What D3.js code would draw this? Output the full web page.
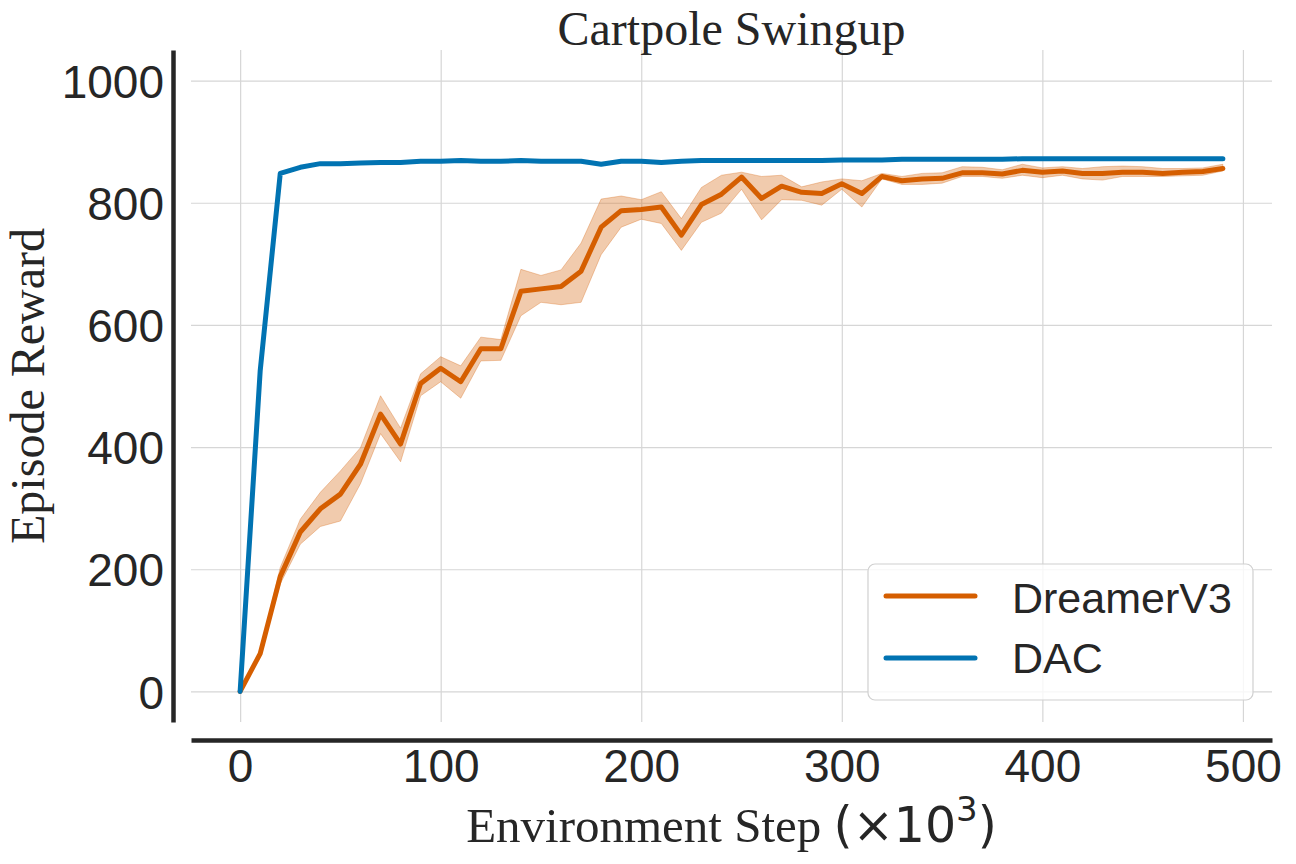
<!DOCTYPE html>
<html lang="en">
<head>
    <meta charset="UTF-8">
    <title>Cartpole Swingup</title>
    <script src="https://d3js.org/d3.v7.min.js"></script>
    <style>
        body { margin: 0; background: #fff; }
    </style>
</head>
<body>
    <script>
        // values
        var steps = [0, 10, 20, 30, 40, 50, 60, 70, 80, 90,
                     100, 110, 120, 130, 140, 150, 160, 170, 180, 190,
                     200, 210, 220, 230, 240, 250, 260, 270, 280, 290,
                     300, 310, 320, 330, 340, 350, 360, 370, 380, 390,
                     400, 410, 420, 430, 440, 450, 460, 470, 480, 490];

        var dacReward = [0, 525, 848, 858, 864, 864, 865, 866, 866, 868,
                         868, 869, 868, 868, 869, 868, 868, 868, 863, 868,
                         868, 866, 868, 869, 869, 869, 869, 869, 869, 869,
                         870, 870, 870, 871, 871, 871, 871, 871, 871, 872,
                         872, 872, 872, 872, 872, 872, 872, 872, 872, 872];

        var dreamerReward = [0, 62, 188, 261, 299, 323, 372, 454, 405, 504,
                             529, 507, 561, 561, 655, 659, 663, 688, 760, 787,
                             789, 793, 747, 797, 814, 842, 807, 827, 817, 815,
                             831, 815, 843, 836, 839, 840, 849, 849, 847, 853,
                             850, 852, 848, 848, 850, 850, 848, 850, 851, 856];

        var dreamerUpper = [0, 65, 203, 282, 326, 361, 399, 484, 431, 520,
                            548, 533, 580, 576, 691, 681, 690, 734, 806, 811,
                            805, 818, 774, 825, 845, 850, 843, 845, 826, 834,
                            839, 836, 848, 843, 848, 849, 859, 858, 854, 863,
                            857, 859, 856, 859, 860, 859, 856, 856, 857, 863];

        var dreamerLower = [0, 59, 176, 241, 270, 279, 340, 422, 376, 484,
                            507, 480, 541, 542, 615, 637, 633, 637, 715, 760,
                            773, 766, 722, 768, 783, 822, 772, 805, 804, 796,
                            822, 793, 839, 830, 830, 832, 843, 843, 840, 845,
                            841, 845, 839, 837, 843, 843, 843, 844, 845, 852];

        var xTicks = [0, 100, 200, 300, 400, 500];
        var yTicks = [0, 200, 400, 600, 800, 1000];
        var seriesNames = ["DreamerV3", "DAC"];
        var seriesColors = ["#d55e00", "#0173b2"];

        var w = 1296;
        var h = 864;
        var plotLeft = 191, plotRight = 1272, plotTop = 50, plotBottom = 722;
        var ink = "#262626";
        var sans = "'Liberation Sans', Arial, sans-serif";
        var serif = "'Liberation Serif', 'Times New Roman', serif";
        var mathFont = "'DejaVu Sans', sans-serif";

        var svg = d3.select("body")
                    .append("svg")
                    .attr("width", w)
                    .attr("height", h);

        svg.append("rect")
            .attr("width", w)
            .attr("height", h)
            .attr("fill", "#fff");

        var xScale = d3.scaleLinear()
                       .domain([-24.5, 514.5])
                       .range([plotLeft, plotRight]);

        var yScale = d3.scaleLinear()
                       .domain([-50, 1050])
                       .range([plotBottom, plotTop]);

        // grid
        svg.append("g")
            .attr("transform", "translate(0," + plotBottom + ")")
            .call(d3.axisBottom(xScale).tickValues(xTicks).tickSize(-(plotBottom - plotTop)).tickFormat(""))
            .call(function(g) { g.select(".domain").remove(); })
            .selectAll("line")
            .attr("stroke", "#d6d6d6")
            .attr("stroke-width", 1.2);

        svg.append("g")
            .attr("transform", "translate(" + plotLeft + ",0)")
            .call(d3.axisLeft(yScale).tickValues(yTicks).tickSize(-(plotRight - plotLeft)).tickFormat(""))
            .call(function(g) { g.select(".domain").remove(); })
            .selectAll("line")
            .attr("stroke", "#d6d6d6")
            .attr("stroke-width", 1.2);

        // offset spines (seaborn despine style)
        var xAxis = svg.append("g")
            .attr("transform", "translate(0,740)")
            .call(d3.axisBottom(xScale).tickValues(xTicks).tickFormat(d3.format("d"))
                  .tickSize(0).tickPadding(0).tickSizeOuter(0));
        xAxis.select(".domain")
            .attr("stroke", ink)
            .attr("stroke-width", 4.5);
        xAxis.selectAll("text")
            .attr("y", 42)
            .attr("dy", 0)
            .attr("fill", ink)
            .style("font-family", sans)
            .style("font-size", "46px");

        var yAxis = svg.append("g")
            .attr("transform", "translate(173,0)")
            .call(d3.axisLeft(yScale).tickValues(yTicks).tickFormat(d3.format("d"))
                  .tickSize(0).tickPadding(9).tickSizeOuter(0));
        yAxis.select(".domain")
            .attr("stroke", ink)
            .attr("stroke-width", 4.5);
        yAxis.selectAll("text")
            .attr("dy", "0.36em")
            .attr("fill", ink)
            .style("font-family", sans)
            .style("font-size", "46px");

        // DreamerV3 band and mean
        var band = d3.area()
            .x(function(d, i) { return xScale(steps[i]); })
            .y0(function(d, i) { return yScale(dreamerLower[i]); })
            .y1(function(d, i) { return yScale(dreamerUpper[i]); });

        svg.append("path")
            .datum(dreamerUpper)
            .attr("d", band)
            .attr("fill", seriesColors[0])
            .attr("fill-opacity", 0.32)
            .attr("stroke", seriesColors[0])
            .attr("stroke-opacity", 0.3)
            .attr("stroke-width", 1);

        var line = d3.line()
            .x(function(d, i) { return xScale(steps[i]); })
            .y(function(d) { return yScale(d); });

        [dreamerReward, dacReward].forEach(function(series, k) {
            svg.append("path")
                .datum(series)
                .attr("d", line)
                .attr("fill", "none")
                .attr("stroke", seriesColors[k])
                .attr("stroke-width", 5)
                .attr("stroke-linejoin", "round")
                .attr("stroke-linecap", "round");
        });

        // title and axis labels
        svg.append("text")
            .attr("x", (plotLeft + plotRight) / 2)
            .attr("y", 45)
            .attr("text-anchor", "middle")
            .attr("fill", ink)
            .style("font-family", serif)
            .style("font-size", "48px")
            .text("Cartpole Swingup");

        svg.append("text")
            .attr("transform", "translate(44," + ((plotTop + plotBottom) / 2) + ") rotate(-90)")
            .attr("text-anchor", "middle")
            .attr("fill", ink)
            .style("font-family", serif)
            .style("font-size", "48px")
            .text("Episode Reward");

        var xLabel = svg.append("text")
            .attr("x", (plotLeft + plotRight) / 2)
            .attr("y", 842)
            .attr("text-anchor", "middle")
            .attr("fill", ink)
            .style("font-family", serif)
            .style("font-size", "49px");
        xLabel.append("tspan").text("Environment Step ");
        xLabel.append("tspan").style("font-family", mathFont).text("(×10");
        xLabel.append("tspan")
            .style("font-family", mathFont)
            .style("font-size", "34px")
            .attr("dy", -21)
            .text("3");
        xLabel.append("tspan")
            .style("font-family", mathFont)
            .attr("dy", 21)
            .text(")");

        // legend
        var legend = svg.append("g");
        legend.append("rect")
            .attr("x", 868)
            .attr("y", 564)
            .attr("width", 385)
            .attr("height", 136)
            .attr("rx", 7)
            .attr("fill", "#fff")
            .attr("fill-opacity", 0.8)
            .attr("stroke", "#d0d0d0")
            .attr("stroke-width", 1.2);

        legend.selectAll("line.key")
            .data(seriesNames)
            .enter()
            .append("line")
            .attr("x1", 886)
            .attr("x2", 975)
            .attr("y1", function(d, i) { return 596 + i * 62; })
            .attr("y2", function(d, i) { return 596 + i * 62; })
            .attr("stroke", function(d, i) { return seriesColors[i]; })
            .attr("stroke-width", 5)
            .attr("stroke-linecap", "round");

        legend.selectAll("text")
            .data(seriesNames)
            .enter()
            .append("text")
            .attr("x", 1012)
            .attr("y", function(d, i) { return 613 + i * 60; })
            .attr("fill", ink)
            .style("font-family", sans)
            .style("font-size", "43px")
            .text(function(d) { return d; });
    </script>
</body>
</html>
